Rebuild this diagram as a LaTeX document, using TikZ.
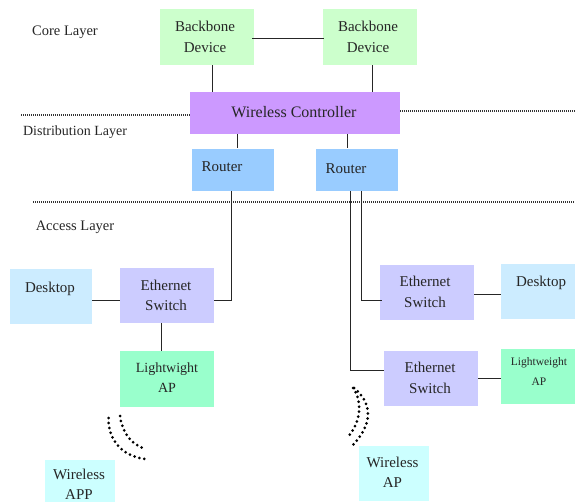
\documentclass[tikz,border=0pt]{standalone}
\usepackage{fontspec}
\setmainfont{Liberation Serif}
\usepackage{tikz}
\usetikzlibrary{calc}
\definecolor{backbonecol}{HTML}{CCFFCC}
\definecolor{controllercol}{HTML}{CC99FF}
\definecolor{routercol}{HTML}{99CCFF}
\definecolor{switchcol}{HTML}{CCCCFF}
\definecolor{desktopcol}{HTML}{CCECFF}
\definecolor{lightcol}{HTML}{99FFCC}
\definecolor{wirelesscol}{HTML}{CCFFFF}
\tikzset{
  devbox/.style={rectangle,inner sep=0pt,draw=none},
  backbonebox/.style={devbox,fill=backbonecol,minimum width=94pt,minimum height=56pt},
  controllerbox/.style={devbox,fill=controllercol,minimum width=210pt,minimum height=42pt},
  routerbox/.style={devbox,fill=routercol,minimum width=82pt,minimum height=42pt},
  switchbox/.style={devbox,fill=switchcol,minimum width=94pt,minimum height=55pt},
  desktopbox/.style={devbox,fill=desktopcol,minimum width=82pt,minimum height=55pt},
  lightbox/.style={devbox,fill=lightcol,minimum width=94pt,minimum height=56pt},
  wirelessbox/.style={devbox,fill=wirelesscol,minimum width=70pt},
  boxtext/.style={align=center,inner sep=0pt,text=black!85,font=\fontsize{15}{20.5}\selectfont},
  layertext/.style={inner sep=0pt,text=black!85,font=\fontsize{14.5}{18}\selectfont},
  wire/.style={color=black!85,line width=0.8pt},
  layerline/.style={color=black!80,line width=1.8pt,dash pattern=on 1pt off 1pt},
  signal/.style={color=black,line width=3pt,line cap=round,dash pattern=on 0pt off 5pt}
}
\begin{document}
\begin{tikzpicture}[x=1pt,y=-1pt]
\useasboundingbox[fill=white] (0,0) rectangle (575,502);
% Drawing boxes
\node[backbonebox] (bb1) at (207,37) {};
\node[backbonebox] (bb2) at (370,37) {};
\node[controllerbox] (wc) at (295,113) {};
\node[routerbox] (r1) at (233,170) {};
\node[routerbox] (r2) at (357,170) {};
\node[desktopbox] (d1) at (51,296.5) {};
\node[switchbox] (es1) at (167,295.5) {};
\node[lightbox] (lw1) at (167,379) {};
\node[wirelessbox,minimum height=42pt] (wa1) at (80,481) {};
\node[switchbox] (es2) at (427,292.5) {};
\node[desktopbox,minimum width=74pt] (d2) at (538,291.5) {};
\node[switchbox] (es3) at (431,378.5) {};
\node[desktopbox,minimum width=74pt,fill=lightcol] (lw2) at (538,376.5) {};
\node[wirelessbox,minimum height=55pt] (wa2) at (394,473.5) {};
% Done with boxes; drawing layer lines
\coordinate (ll1) at (21,114.7);
\coordinate (lr1) at (575,111);
\coordinate (ll2) at (33,201.7);
\coordinate (lr2) at (575,201.7);
\draw[layerline] (ll1) -- (ll1 -| wc.west);
\draw[layerline] (wc.east |- lr1) -- (lr1);
\draw[layerline] (ll2) -- (lr2);
% Done with layer lines; drawing wires
\draw[wire] ([xshift=-2pt,yshift=-1pt]bb1.east) -- ([xshift=1pt,yshift=-1pt]bb2.west);
\draw[wire] ([xshift=5.5pt]bb1.south) -- ([xshift=-82.5pt]wc.north);
\draw[wire] ([xshift=2.5pt]bb2.south) -- ([xshift=77.5pt]wc.north);
\draw[wire] ([xshift=-57.5pt]wc.south) -- ([xshift=4.5pt,yshift=1pt]r1.north);
\draw[wire] ([xshift=52pt]wc.south) -- ([xshift=-10pt,yshift=1pt]r2.north);
\draw[wire] ([xshift=-1.5pt]r1.south) |- ([yshift=-4.5pt]es1.east);
\draw[wire] ([xshift=4.5pt]r2.south) |- ([xshift=2pt,yshift=-8pt]es2.west);
\draw[wire] ([xshift=-7pt]r2.south) |- ([yshift=8.5pt]es3.west);
\draw[wire] ([yshift=-3.5pt]d1.east) -- ([yshift=-4.5pt]es1.west);
\draw[wire] ([xshift=-5.5pt]es1.south) -- ([xshift=-5.5pt]lw1.north);
\draw[wire] ([yshift=-1.5pt]es2.east) -- ([yshift=-2.5pt]d2.west);
\draw[wire] ([yshift=0.5pt]es3.east) -- ([yshift=-1.5pt]lw2.west);
% Done with wires; drawing signals
\draw[signal] (108.5,418) .. controls (108,440) and (122,456) .. (145,459);
\draw[signal] (120,416) .. controls (122,432) and (131,445) .. (146,449);
\draw[signal] (354,388) .. controls (374,405) and (372,425) .. (352,446);
\draw[signal] (353,388) .. controls (362,400) and (362,420) .. (348,437);
% Done with signals; drawing texts
\node[layertext] (tcore) at (65,32) {Core Layer};
\node[layertext,font=\fontsize{14}{18}\selectfont] (tdist) at (75,132) {Distribution Layer};
\node[layertext] (tacc) at (75,227) {Access Layer};
\node[boxtext] (tbb1) at (205,37) {Backbone\\Device};
\node[boxtext] (tbb2) at (368,37) {Backbone\\Device};
\node[boxtext,font=\fontsize{16}{20}\selectfont] (twc) at (294,112) {Wireless Controller};
\node[boxtext] (tr1) at (222,167) {Router};
\node[boxtext] (tr2) at (346,169) {Router};
\node[boxtext] (td1) at (50,289) {Desktop};
\node[boxtext] (tes1) at (166,295.5) {Ethernet\\Switch};
\node[boxtext,font=\fontsize{14}{20}\selectfont] (tlw1) at (167,378) {Lightwight\\AP};
\node[boxtext] (twa1) at (79,484.5) {Wireless\\APP};
\node[boxtext] (tes2) at (425,292) {Ethernet\\Switch};
\node[boxtext] (td2) at (541,283) {Desktop};
\node[boxtext] (tes3) at (430,378) {Ethernet\\Switch};
\node[boxtext,font=\fontsize{11.5}{20}\selectfont] (tlw2) at (539,372) {Lightweight\\AP};
\node[boxtext] (twa2) at (392.5,472.5) {Wireless\\AP};
% Done with texts
\end{tikzpicture}
\end{document}
